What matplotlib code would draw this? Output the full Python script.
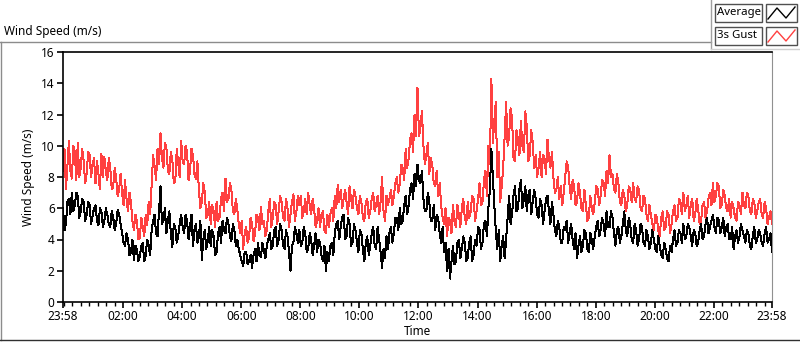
import numpy as np
import matplotlib
matplotlib.use("Agg")
import matplotlib.pyplot as plt
from matplotlib.patches import Rectangle
from matplotlib.lines import Line2D

plt.rcParams['font.family'] = ['Noto Sans', 'DejaVu Sans']

# readings every 6 min from 23:58 (one row per hour) ...
step_min = 6
gust = [
    8.4, 7.2, 10.3, 7.9, 9.6, 10.2, 8.6, 9.0, 8.2, 9.4,
    8.8, 7.6, 8.2, 9.5, 9.3, 7.8, 8.6, 7.4, 7.9, 7.2,
    7.0, 7.8, 5.8, 6.4, 4.6, 5.2, 4.1, 4.8, 5.6, 6.4,
    7.5, 8.7, 9.8, 10.8, 8.6, 9.9, 8.2, 9.1, 7.7, 8.9,
    10.3, 8.8, 9.6, 8.4, 9.4, 7.9, 7.2, 6.4, 7.0, 5.6,
    5.0, 5.8, 6.4, 5.4, 7.0, 7.9, 6.6, 7.2, 5.6, 5.9,
    4.4, 3.4, 4.8, 4.2, 5.0, 4.4, 5.4, 6.1, 5.2, 4.6,
    6.6, 5.4, 6.2, 5.8, 6.4, 5.2, 6.0, 5.6, 6.9, 5.8,
    6.2, 5.4, 6.6, 7.0, 5.6, 6.0, 5.2, 4.8, 5.8, 4.4,
    4.8, 6.0, 6.8, 7.5, 7.2, 6.6, 6.4, 7.4, 6.0, 6.8,
    5.6, 6.4, 5.2, 6.6, 5.8, 7.0, 6.2, 5.6, 8.0, 5.2,
    6.2, 7.2, 6.8, 8.0, 7.6, 8.6, 9.8, 9.2, 10.8, 12.0,
    13.7, 11.2, 10.0, 9.4, 8.2, 8.8, 7.4, 6.8, 6.2, 5.0,
    4.2, 5.2, 6.2, 4.8, 5.6, 6.0, 5.4, 6.4, 5.8, 6.6,
    5.8, 7.6, 6.4, 8.4, 10.0, 14.3, 11.6, 8.0, 6.4, 8.6,
    12.8, 10.6, 11.8, 9.0, 10.4, 11.6, 9.6, 11.2, 9.4, 10.2,
    9.4, 8.6, 8.0, 9.2, 10.4, 8.6, 8.0, 7.2, 6.6, 6.2,
    8.0, 8.6, 6.6, 7.4, 6.4, 7.0, 5.8, 6.2, 5.4, 6.0,
    6.4, 7.2, 6.8, 7.6, 8.4, 9.4, 8.2, 7.0, 7.6, 6.2,
    6.8, 6.2, 7.2, 7.6, 6.4, 7.2, 5.8, 6.6, 5.2, 5.6,
    4.6, 5.4, 4.2, 5.8, 4.8, 5.6, 5.0, 6.2, 5.4, 6.4,
    7.0, 6.2, 5.4, 6.6, 5.6, 6.0, 5.2, 6.4, 5.8, 7.0,
    7.6, 6.8, 7.4, 6.2, 6.8, 5.8, 5.4, 6.0, 5.2, 6.2,
    7.0, 6.0, 6.8, 5.6, 6.4, 5.8, 6.6, 5.4, 6.0, 5.4, 5.0,
]
average = [
    6.0, 5.0, 6.6, 7.0, 6.2, 6.8, 5.8, 6.4, 5.6, 6.2,
    5.5, 6.2, 4.9, 5.8, 5.2, 5.6, 4.8, 5.4, 5.0, 5.6,
    4.4, 3.6, 4.0, 3.2, 2.7, 3.4, 2.9, 3.8, 3.0, 3.6,
    4.6, 5.6, 4.2, 7.4, 5.2, 4.4, 5.8, 3.5, 4.8, 4.2,
    5.6, 4.4, 5.2, 4.8, 3.6, 5.0, 4.2, 2.7, 4.6, 3.9,
    3.6, 4.2, 3.2, 4.8, 5.2, 4.4, 5.0, 3.9, 4.6, 4.0,
    3.0, 2.3, 3.2, 2.6, 2.2, 3.4, 3.8, 2.9, 3.3, 3.6,
    4.4, 3.6, 4.8, 4.0, 4.6, 3.4, 4.2, 2.0, 3.8, 4.4,
    4.6, 3.8, 4.4, 3.4, 4.0, 3.6, 3.2, 3.8, 2.6, 2.0,
    2.6, 3.8, 4.4, 5.2, 4.8, 5.6, 4.2, 5.0, 3.8, 4.6,
    3.2, 4.4, 2.6, 4.2, 3.6, 4.8, 3.4, 4.0, 2.2, 2.8,
    3.4, 4.8, 4.4, 5.4, 6.0, 5.2, 6.8, 6.2, 7.6, 8.2,
    8.8, 7.6, 6.6, 5.8, 6.4, 5.2, 4.6, 5.4, 3.8, 3.2,
    2.0, 1.5, 3.6, 2.6, 4.0, 3.4, 3.8, 2.8, 4.2, 3.0,
    3.6, 4.6, 3.8, 5.2, 6.0, 9.8, 6.2, 3.4, 2.6, 4.2,
    4.0, 6.8, 5.6, 7.4, 6.0, 7.8, 6.6, 5.8, 7.2, 6.4,
    6.6, 5.4, 6.2, 5.8, 6.8, 5.0, 5.6, 4.2, 4.8, 3.8,
    4.6, 3.8, 5.0, 3.4, 2.8, 4.2, 3.6, 4.4, 3.2, 4.0,
    4.2, 5.2, 4.6, 5.0, 5.8, 4.8, 5.4, 3.6, 4.8, 4.2,
    5.8, 4.2, 5.0, 3.8, 4.6, 4.0, 4.8, 3.6, 4.2, 3.8,
    4.0, 3.2, 3.6, 2.8, 3.4, 2.6, 3.2, 4.6, 3.8, 4.4,
    5.0, 4.2, 4.8, 3.6, 4.4, 3.8, 5.0, 4.2, 5.4, 4.8,
    5.6, 4.4, 5.2, 4.8, 4.2, 5.0, 4.0, 3.4, 4.6, 4.2,
    4.6, 3.8, 4.4, 3.4, 4.8, 4.0, 4.4, 3.6, 4.8, 4.0, 3.2,
]
# ... and the readings 3 min after each of those
gust_mid = [
    9.8, 8.8, 8.4, 10.0, 7.8, 8.0, 9.8, 7.6, 9.6, 8.0,
    9.2, 9.0, 7.2, 8.0, 8.4, 9.2, 7.2, 8.6, 6.8, 8.2,
    6.2, 6.6, 7.0, 5.2, 5.6, 4.0, 5.4, 4.2, 4.9, 5.6,
    9.4, 7.8, 8.8, 9.2, 10.2, 8.4, 9.6, 7.6, 9.8, 8.0,
    9.0, 10.0, 7.8, 9.8, 8.2, 9.0, 6.0, 7.6, 5.4, 6.4,
    6.2, 4.8, 5.2, 6.6, 5.8, 6.4, 7.6, 5.8, 6.6, 5.0,
    5.2, 4.4, 3.8, 5.4, 3.9, 5.6, 4.6, 5.0, 4.2, 5.8,
    4.8, 6.4, 5.0, 6.8, 5.4, 6.6, 4.8, 6.4, 5.2, 6.8,
    6.8, 5.8, 5.6, 6.2, 6.6, 4.8, 6.0, 5.6, 4.6, 5.6,
    5.6, 5.2, 6.0, 6.4, 6.0, 7.2, 5.6, 6.6, 7.2, 6.0,
    6.8, 5.4, 6.4, 5.4, 6.6, 5.8, 6.8, 6.4, 5.8, 6.8,
    6.6, 6.2, 7.6, 7.0, 8.8, 7.8, 8.6, 10.4, 9.6, 10.6,
    10.6, 12.2, 8.8, 10.2, 9.2, 7.6, 8.4, 7.6, 5.4, 6.0,
    5.4, 4.4, 5.2, 6.2, 4.8, 6.6, 5.0, 5.4, 6.8, 5.2,
    6.6, 6.2, 7.8, 6.8, 8.8, 10.2, 12.8, 9.6, 7.4, 10.6,
    10.0, 12.4, 9.2, 11.0, 9.4, 10.0, 12.2, 9.0, 11.0, 8.6,
    8.0, 9.6, 9.4, 8.2, 9.2, 9.6, 7.0, 8.0, 7.4, 7.0,
    9.0, 7.4, 7.8, 6.2, 7.6, 6.0, 7.2, 5.2, 6.8, 5.6,
    7.4, 6.2, 7.8, 6.8, 7.6, 8.0, 7.2, 8.2, 6.4, 7.2,
    5.8, 7.4, 6.4, 6.6, 7.4, 6.0, 6.8, 5.6, 6.2, 5.0,
    5.6, 4.6, 5.4, 4.6, 5.8, 4.4, 5.8, 5.2, 6.6, 5.6,
    5.8, 6.8, 6.2, 5.2, 6.6, 5.0, 6.2, 5.4, 6.6, 6.2,
    6.4, 7.6, 6.0, 7.2, 6.0, 6.6, 6.4, 5.4, 6.4, 5.6,
    6.2, 7.0, 5.8, 6.6, 5.4, 6.4, 5.6, 6.4, 5.0, 5.8,
]
average_mid = [
    4.6, 6.4, 5.6, 5.8, 7.0, 5.4, 6.6, 5.2, 6.4, 5.0,
    6.0, 5.2, 6.0, 4.8, 6.0, 5.0, 5.8, 4.6, 5.9, 5.0,
    3.8, 4.4, 3.0, 4.0, 3.6, 2.6, 3.6, 2.6, 4.0, 3.0,
    5.2, 4.4, 5.8, 5.0, 6.0, 5.2, 4.4, 5.0, 3.8, 5.0,
    4.8, 5.6, 4.0, 5.6, 4.6, 3.8, 5.2, 4.0, 3.4, 4.8,
    4.6, 3.0, 4.4, 3.8, 4.6, 5.4, 4.2, 5.0, 3.6, 3.4,
    2.6, 3.2, 2.4, 3.0, 3.0, 2.6, 3.0, 3.8, 2.8, 4.0,
    3.4, 4.6, 3.6, 5.0, 3.6, 4.6, 3.2, 3.6, 4.8, 3.8,
    3.6, 4.8, 3.2, 4.4, 3.0, 4.4, 4.0, 3.0, 3.6, 3.2,
    3.6, 3.0, 5.0, 4.0, 5.4, 4.0, 5.4, 3.6, 5.0, 3.8,
    4.6, 3.4, 3.8, 3.0, 4.4, 3.6, 4.8, 3.2, 3.4, 4.2,
    4.4, 3.8, 5.4, 4.6, 5.0, 6.2, 5.6, 7.2, 6.6, 7.4,
    7.8, 8.4, 5.8, 7.0, 5.2, 6.2, 5.6, 4.4, 4.8, 3.8,
    3.4, 2.6, 2.4, 3.8, 2.8, 4.2, 2.6, 3.8, 2.6, 4.0,
    4.8, 3.4, 5.0, 4.2, 7.2, 8.0, 4.6, 4.6, 3.6, 2.8,
    5.4, 5.0, 6.8, 5.8, 7.2, 6.0, 7.4, 6.8, 5.6, 7.2,
    5.6, 6.6, 5.0, 6.6, 5.8, 6.4, 4.6, 5.2, 3.8, 4.8,
    5.2, 4.4, 4.0, 4.4, 3.6, 3.2, 4.6, 3.4, 4.4, 3.4,
    4.8, 4.2, 5.4, 4.2, 4.8, 5.8, 4.4, 4.6, 3.8, 5.0,
    4.6, 5.4, 4.0, 5.0, 3.6, 5.0, 3.8, 4.6, 3.4, 4.6,
    3.4, 4.2, 3.0, 3.8, 2.8, 3.6, 4.0, 3.6, 4.6, 3.8,
    4.0, 5.0, 4.2, 4.6, 3.6, 4.6, 4.0, 5.0, 4.4, 5.2,
    4.8, 5.4, 4.4, 5.4, 4.8, 4.0, 4.8, 4.2, 3.8, 5.0,
    4.2, 4.6, 3.6, 4.2, 3.8, 4.6, 3.8, 4.4, 3.8, 4.4,
]
tick_minutes = [0, 122, 242, 362, 482, 602, 722, 842, 962, 1082, 1202, 1322, 1440]
tick_labels = ['23:58', '02:00', '04:00', '06:00', '08:00', '10:00', '12:00',
               '14:00', '16:00', '18:00', '20:00', '22:00', '23:58']
y_ticks = [0, 2, 4, 6, 8, 10, 12, 14, 16]


def merge(on, mid):
    out = np.empty(len(on) + len(mid))
    out[0::2] = on
    out[1::2] = mid
    return out


gust_all = merge(gust, gust_mid)
average_all = merge(average, average_mid)
minutes = np.arange(len(gust_all)) * step_min / 2

W, H = 800, 342
fig = plt.figure(figsize=(W / 100, H / 100), dpi=100)


def fx(px):
    return px / W


def fy(py):
    return 1 - py / H


ax = fig.add_axes([fx(63), fy(302), fx(772) - fx(63), fy(52) - fy(302)])
ax.plot(minutes, gust_all, color='#ff4040', lw=0.72, antialiased=False, zorder=2)
ax.plot(minutes, average_all, color='black', lw=0.72, antialiased=False, zorder=3)

ax.set_xlim(0, 1440)
ax.set_ylim(0, 16)
ax.set_xticks(tick_minutes)
ax.set_xticklabels(tick_labels)
minor = [2 + k * 120 / 7 for k in range(85) if 2 + k * 120 / 7 <= 1440]
ax.set_xticks(minor, minor=True)
ax.set_yticks(y_ticks)
ax.tick_params(axis='both', which='major', length=4, width=1.2, labelsize=8.5, pad=2)
ax.tick_params(axis='x', which='minor', length=3, width=1)
for side in ['left', 'top', 'bottom']:
    ax.spines[side].set_color('black')
    ax.spines[side].set_linewidth(1.2)
ax.spines['right'].set_color('#909090')
ax.set_xlabel('Time', fontsize=8.5, labelpad=1)
ax.set_ylabel('Wind Speed (m/s)', fontsize=8.5, labelpad=4)

# frame around the graph
fig.add_artist(Line2D([0, fx(711)], [fy(42), fy(42)], color='#8c8c8c', lw=1))
fig.add_artist(Line2D([fx(0.5), fx(0.5)], [fy(42), fy(340)], color='#8c8c8c', lw=1))
fig.add_artist(Line2D([0, 1], [fy(340), fy(340)], color='#303030', lw=1))
fig.add_artist(Line2D([fx(711), fx(711)], [fy(0), fy(49)], color='#a0a0a0', lw=1))
fig.add_artist(Line2D([fx(711), 1], [fy(49), fy(49)], color='#d0d0d0', lw=1))
fig.text(fx(4), fy(32), 'Wind Speed (m/s)', fontsize=8.5, va='center', ha='left')

# legend
for row, (name, col) in enumerate([('Average', 'black'), ('3s Gust', '#ff4040')]):
    top = 4 + row * 23
    fig.add_artist(Rectangle((fx(715), fy(top + 18)), fx(762) - fx(715), fy(top) - fy(top + 18),
                             facecolor='white', edgecolor='#505050', lw=1))
    fig.add_artist(Rectangle((fx(766), fy(top + 18)), fx(797) - fx(766), fy(top) - fy(top + 18),
                             facecolor='white', edgecolor='#505050', lw=1))
    fig.text(fx(717), fy(top + 9), name, fontsize=8.2, va='center', ha='left')
    fig.add_artist(Line2D([fx(768), fx(777), fx(786), fx(795)],
                          [fy(top + 15), fy(top + 4), fy(top + 14), fy(top + 3)], color=col, lw=1))

fig.savefig('out.png', dpi=100)
